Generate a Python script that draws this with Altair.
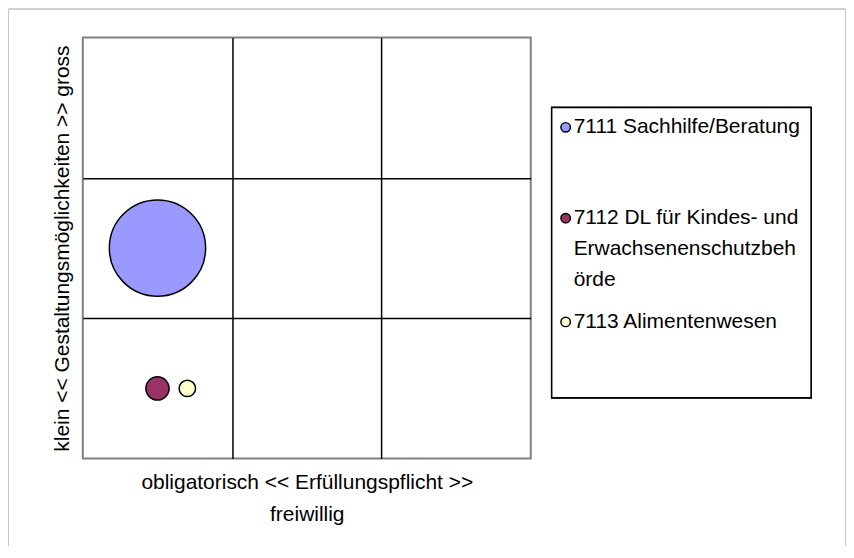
import altair as alt
import pandas as pd

# ---- data ----
categories = [
    "7111 Sachhilfe/Beratung",
    "7112 DL für Kindes- und Erwachsenenschutzbehörde",
    "7113 Alimentenwesen",
]
x_values = [0.5, 0.5, 0.7]      # Erfüllungspflicht (0 = obligatorisch, 3 = freiwillig)
y_values = [1.5, 0.5, 0.5]      # Gestaltungsmöglichkeiten (0 = klein, 3 = gross)
bubble_sizes = [1000, 58, 29]   # relative bubble size (area)
colors = ["#9999FF", "#993366", "#FFFFCC"]
legend_order = [1, 2, 3]
legend_lines = [
    ["7111 Sachhilfe/Beratung"],
    ["7112 DL für Kindes- und", "Erwachsenenschutzbeh", "örde"],
    ["7113 Alimentenwesen"],
]
x_title = ["obligatorisch <<  Erfüllungspflicht  >>", "freiwillig"]
y_title = "klein << Gestaltungsmöglichkeiten >> gross"

df = pd.DataFrame({"Kategorie": categories, "x": x_values, "y": y_values,
                   "Groesse": bubble_sizes, "Rang": legend_order, "Legende": legend_lines})

FONT = "Liberation Sans"
FS = 21
W, H = 449, 422
PAD = {"left": 75, "top": 29, "right": 316, "bottom": 87}

color_scale = alt.Scale(domain=categories, range=colors)
legend_rows = alt.Scale(domain=[1, 2, 3], range=[90, 181, 285])

outer = alt.Chart(df).mark_rect(fill="transparent", stroke="#c8c8c8", strokeWidth=1).encode(
    x=alt.value(-74.5), x2=alt.value(764.5), y=alt.value(-28.5), y2=alt.value(700)
)

legend_box = alt.Chart(df).mark_rect(fill="white", stroke="black", strokeWidth=1.5).encode(
    x=alt.value(470), x2=alt.value(730), y=alt.value(70), y2=alt.value(361)
)

points = alt.Chart(df).mark_circle(opacity=1, stroke="black", strokeWidth=1.5).encode(
    x=alt.X("x:Q", scale=alt.Scale(domain=[0, 3], nice=False, zero=False),
            axis=alt.Axis(title=x_title, values=[1, 2], grid=True, labels=False, ticks=False,
                          domain=False, gridColor="black", gridWidth=1.5, gridOpacity=1,
                          titleFont=FONT, titleFontSize=FS, titleFontWeight="normal",
                          titleColor="black", titlePadding=13, titleLineHeight=32)),
    y=alt.Y("y:Q", scale=alt.Scale(domain=[0, 3], nice=False, zero=False),
            axis=alt.Axis(title=y_title, values=[1, 2], grid=True, labels=False, ticks=False,
                          domain=False, gridColor="black", gridWidth=1.5, gridOpacity=1,
                          titleFont=FONT, titleFontSize=FS, titleFontWeight="normal",
                          titleColor="black", titlePadding=10)),
    size=alt.Size("Groesse:Q", scale=alt.Scale(domain=[0, 1000], range=[0, 9312]), legend=None),
    color=alt.Color("Kategorie:N", scale=color_scale, legend=None),
)

legend_symbols = alt.Chart(df).mark_point(shape="circle", filled=True, opacity=1, size=90,
                                          stroke="black", strokeWidth=1.5).encode(
    x=alt.value(484),
    y=alt.Y("Rang:Q", scale=legend_rows, axis=None),
    color=alt.Color("Kategorie:N", scale=color_scale, legend=None),
)

legend_text = alt.Chart(df).mark_text(align="left", baseline="middle", font=FONT, fontSize=FS,
                                      lineHeight=31, color="black").encode(
    x=alt.value(492),
    y=alt.Y("Rang:Q", scale=legend_rows, axis=None),
    text="Legende:N",
)

chart = alt.layer(outer, legend_box, points, legend_symbols, legend_text).resolve_scale(
    y="independent"
).properties(
    width=W, height=H, padding=PAD, autosize=alt.AutoSizeParams(type="none"),
    background="white"
).configure_view(stroke="#808080", strokeWidth=2)

chart.save("out.html", embed_options={"renderer": "svg", "actions": False})
